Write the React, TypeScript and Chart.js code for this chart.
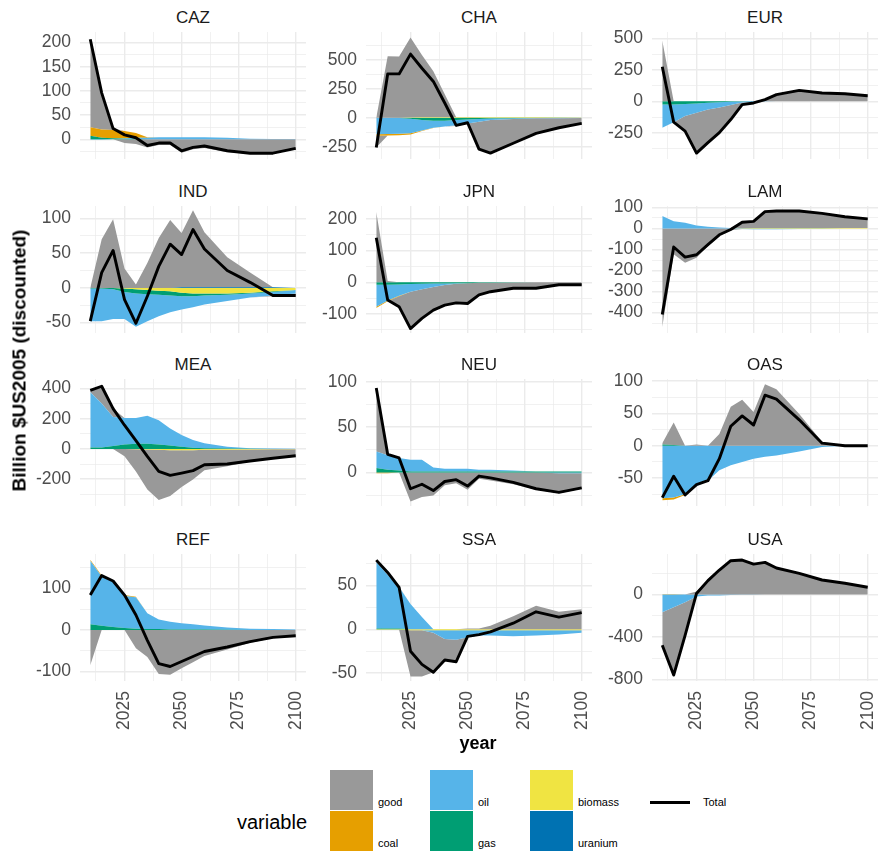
import React, { useEffect, useRef } from "react";
import { Chart, registerables } from "chart.js";
Chart.register(...registerables);

const YEARS = [2010, 2015, 2020, 2025, 2030, 2035, 2040, 2045, 2050, 2055, 2060, 2070, 2080, 2090, 2100];
const REGIONS = ["CAZ", "CHA", "EUR", "IND", "JPN", "LAM", "MEA", "NEU", "OAS", "REF", "SSA", "USA"];
const VARIABLES = ["good", "coal", "oil", "gas", "biomass", "uranium"];
const COLORS: Record<string, string> = {
  good: "#999999",
  coal: "#E69F00",
  oil: "#56B4E9",
  gas: "#009E73",
  biomass: "#F0E442",
  uranium: "#0072B2",
};
const Z = [0, 0, 0, 0, 0, 0, 0, 0, 0, 0, 0, 0, 0, 0, 0];

const GOOD: Record<string, number[]> = {
  CAZ: [183, 77, 3, -8, -10, -17, -12, -12, -28, -21, -18, -27, -30, -30, -20],
  CHA: [-102, 531, 529, 692, 539, 397, 198, -6, 2, -241, -290, -214, -133, -86, -49],
  EUR: [486, 0, -119, -321, -263, -200, -115, -16, -8, 16, 53, 87, 66, 60, 45],
  IND: [0, 70, 99, 28, 5, 36, 72, 98, 78, 111, 79, 43, 21, -1, -3],
  JPN: [221, 4, -33, -116, -92, -73, -63, -60, -64, -38, -28, -18, -19, -8, -8],
  LAM: [-468, -123, -163, -139, -85, -35, -7, 31, 35, 81, 84, 83, 72, 54, 44],
  MEA: [11, 115, 55, -48, -148, -265, -333, -303, -244, -195, -136, -110, -80, -61, -43],
  NEU: [71, 2, 0, -32, -27, -25.5, -14, -12, -19, -7, -9, -13, -19, -22, -17],
  OAS: [2, 35, 0, 2, 0, 18, 60, 71, 52, 95, 87, 49, 6, 0, 0],
  REF: [-85, 0, 0, 0, -44, -65, -106, -108, -92, -78, -63, -47, -31, -20, -15],
  SSA: [2.5, 3.5, 0.5, -53, -53, -45, -24, -25, 1, 1, 4, 15, 27, 20, 23],
  USA: [-312, -640, -313, 29, 141, 239, 324, 328, 289, 303, 250, 200, 137, 106, 69],
};
const COAL: Record<string, number[]> = {
  CAZ: [18, 17, 17, 15, 10, 1, 0, 0, 0, 0, 0, 0, 0, 0, 0],
  CHA: [-12, -12, -12, -10, -5, -2, 0, 0, 0, 0, 0, 0, 0, 0, 0],
  EUR: Z,
  IND: Z,
  JPN: [-4, -2, -1, 0, 0, 0, 0, 0, 0, 0, 0, 0, 0, 0, 0],
  LAM: Z,
  MEA: Z,
  NEU: [-1, -1, 0, 0, 0, 0, 0, 0, 0, 0, 0, 0, 0, 0, 0],
  OAS: [-3, -3, -1, 0, 0, 0, 0, 0, 0, 0, 0, 0, 0, 0, 0],
  REF: [2, 2, 2, 2, 1, 0, 0, 0, 0, 0, 0, 0, 0, 0, 0],
  SSA: Z,
  USA: [2, 2, 1, 0, 0, 0, 0, 0, 0, 0, 0, 0, 0, 0, 0],
};
const OIL: Record<string, number[]> = {
  CAZ: [-1, -1, 0, 1, 2, 3, 4, 4, 4, 4, 4, 3, 1, 0.5, 0.5],
  CHA: [-143, -140, -136, -126, -90, -61, -50, -45, -35, -25, -14, -7, -3, -2, -2],
  EUR: [-184, -140, -96, -74, -54, -42, -26, -8, -5, -2, 0, 0, 0, 0, 0],
  IND: [-47, -47, -43, -39, -48, -39, -31, -24, -19, -16, -13, -9, -6, -5, -5],
  JPN: [-69, -50, -36, -24, -17, -11, -5, -2, 0, 0, 0, 0, 0, 0, 0],
  LAM: [59, 35, 27, 14, 8, 5, 2, -2, -3, -3, -3, -2, -2, 0, 0],
  MEA: [366, 290, 192, 175, 170, 184, 160, 114, 77, 51, 32, 12, 3, 2, 1],
  NEU: [18, 16, 14, 13, 13, 4.5, 3, 3, 3, 2, 2, 1, 0, -1, -1],
  OAS: [-81, -80, -75, -62, -54, -38, -30, -25, -20, -17, -15, -9, -2, 0, 0],
  REF: [153, 119, 109, 77, 76, 38, 23, 19, 15, 13, 10, 5.5, 3, 2, 1],
  SSA: [76, 61, 47, 29, 14, -3, -10, -11, -8, -6, -6, -7, -6, -5, -3],
  USA: [-166, -119, -72, -19, -10, -8, -5, -3, -2, 0, 0, 0, 0, 0, 0],
};
const GAS: Record<string, number[]> = {
  CAZ: [7, 3, 2, 1, 1, 0, 0, 0, 0, 0, 0, 0, 0, 0, 0],
  CHA: [0, 0, -2, -8, -20, -25, -25, -20, -15, -10, -6, -3, -2, -1, 0],
  EUR: [-26, -26, -22, -18, -12, -8, -4, -2, 0, 0, 0, 0, 0, 0, 0],
  IND: [-1, -1, -2, -5, -6, -6, -6, -6, -5, -4, -3, -2, -1, -1, 0],
  JPN: [-8, -8, -7, -6, -5, -4, -4, -3, -3, -2, -2, -1, 0, 0, 0],
  LAM: Z,
  MEA: [10, 10, 20, 30, 35, 35, 30, 22, 15, 8, 5, 3, 1, 0, 0],
  NEU: [5, 3, 2, 1, 1, 1, 1, 1, 1, 1, 1, 1, 1, 1, 1],
  OAS: [2, 1, 0, 0, 0, 0, 0, 0, 0, 0, 0, 0, 0, 0, 0],
  REF: [14, 10, 7, 5, 3, 2, 2, 1, 1, 1, 1, 0.5, 0, 0, 0],
  SSA: [1, 1, 1, 0, 0, 0, 0, 0, 0, 0, 0, 0, 0, 0, 0],
  USA: Z,
};
const BIOMASS: Record<string, number[]> = {
  CAZ: Z,
  CHA: [0, 0, 0, 2, 4, 5, 5, 5, 5, 5, 5, 4, 4, 3, 3],
  EUR: Z,
  IND: [0, 0, 0, -1, -2, -3, -4, -5, -7, -8, -8, -8, -7, -5, -3],
  JPN: Z,
  LAM: [0, 0, 0, 0, 0, 0, 0, 1, 2, 2, 2, 2, 2, 2, 2],
  MEA: [0, 0, 0, 0, -2, -4, -6, -8, -8, -8, -6, -5, -4, -3, -3],
  NEU: Z,
  OAS: Z,
  REF: Z,
  SSA: [-0.5, -0.5, -0.5, -1, -1, -1, -1, -1, -1, -1, -1, -1, -1, -1, -1],
  USA: Z,
};
const URANIUM: Record<string, number[]> = {
  CAZ: Z, CHA: Z, EUR: Z,
  IND: [0, 0, 0, 0, 0, 0, 0, 0, 1, 1, 1, 1, 1, 1, 0],
  JPN: Z, LAM: Z, MEA: Z, NEU: Z, OAS: Z, REF: Z, SSA: Z, USA: Z,
};
const TOTAL: Record<string, number[]> = {
  CAZ: [207, 96, 22, 9, 3, -13, -8, -8, -24, -17, -14, -24, -29, -29, -19],
  CHA: [-257, 379, 379, 550, 428, 314, 128, -66, -43, -271, -305, -220, -134, -86, -48],
  EUR: [276, -166, -237, -413, -329, -250, -145, -26, -13, 14, 53, 87, 66, 60, 45],
  IND: [-48, 22, 54, -17, -51, -12, 31, 63, 48, 84, 56, 25, 8, -11, -11],
  JPN: [140, -56, -77, -146, -114, -88, -72, -65, -67, -40, -30, -19, -19, -8, -8],
  LAM: [-409, -88, -136, -125, -77, -30, -5, 30, 34, 80, 83, 83, 72, 56, 46],
  MEA: [387, 415, 267, 157, 55, -50, -149, -175, -160, -144, -105, -100, -80, -62, -45],
  NEU: [93, 20, 16, -18, -13, -20, -10, -8, -15, -4, -6, -11, -18, -22, -17],
  OAS: [-80, -47, -76, -60, -54, -20, 30, 46, 32, 78, 72, 40, 4, 0, 0],
  REF: [84, 131, 118, 84, 36, -25, -81, -88, -76, -64, -52, -41, -28, -18, -14],
  SSA: [79, 65, 48, -25, -40, -49, -35, -37, -8, -6, -3, 7, 20, 14, 19],
  USA: [-478, -759, -385, 10, 131, 231, 319, 325, 287, 303, 250, 200, 137, 106, 69],
};

const Y_MIN = [-41, -356, -460, -65, -160, -497, -378, -37, -93, -123, -59, -815];
const Y_MAX = [222, 741, 553, 118, 240, 107, 463, 103, 103, 183, 86, 382];
const Y_STEP = [50, 250, 250, 50, 100, 100, 200, 50, 50, 100, 50, 400];
const X_MIN = 2005.5;
const X_MAX = 2104.5;
const X_BREAKS = [2025, 2050, 2075, 2100];
const X_MINOR = [2012.5, 2037.5, 2062.5, 2087.5];

const COL_LEFT = [80, 366, 652];
const ROW_TOP = [32, 206, 379, 554];
const PLOT_W = 226;
const PLOT_H = 127;
const YW = 80;
const M = 14;
const XH = 64;
const RM = 6;
const FONT = "'Liberation Sans', Arial, Helvetica, sans-serif";
const TICK_SIZE = 17.5;

function pts(arr: number[]) {
  return YEARS.map((x, i) => ({ x, y: arr[i] }));
}

function Panel({ idx }: { idx: number }) {
  const ref = useRef<HTMLCanvasElement | null>(null);
  const region = REGIONS[idx];
  const row = Math.floor(idx / 3);
  const col = idx % 3;
  const bottom = row === 3;
  const width = YW + PLOT_W + RM;
  const height = M + PLOT_H + (bottom ? XH : M);

  useEffect(() => {
    if (!ref.current) return;
    const stackOrder = ["uranium", "biomass", "gas", "oil", "coal", "good"];
    const tables: Record<string, Record<string, number[]>> = {
      good: GOOD, coal: COAL, oil: OIL, gas: GAS, biomass: BIOMASS, uranium: URANIUM,
    };
    const datasets: any[] = [];
    datasets.push({
      label: "Total",
      data: pts(TOTAL[region]),
      borderColor: "#000000",
      borderWidth: 2.9,
      borderJoinStyle: "round",
      fill: false,
      pointRadius: 0,
      order: 0,
    });
    for (const sign of [1, -1]) {
      let cum = YEARS.map(() => 0);
      let prev: any = "origin";
      stackOrder.forEach((v) => {
        const s = tables[v][region];
        cum = cum.map((c, i) => c + (sign > 0 ? Math.max(s[i], 0) : Math.min(s[i], 0)));
        datasets.push({
          label: v,
          data: pts(cum),
          borderColor: "rgba(0,0,0,0)",
          borderWidth: 0,
          backgroundColor: COLORS[v],
          fill: prev,
          pointRadius: 0,
          order: 1,
        });
        prev = datasets.length - 1;
      });
    }
    const step = Y_STEP[idx];
    const ymin = Y_MIN[idx];
    const ymax = Y_MAX[idx];
    const isMajorY = (v: number) => Math.abs(v / step - Math.round(v / step)) < 1e-6;
    const isMajorX = (v: number) => X_BREAKS.includes(v);
    const chart = new Chart(ref.current, {
      type: "line",
      data: { datasets },
      options: {
        animation: false,
        responsive: false,
        devicePixelRatio: 1,
        layout: { padding: { top: M, bottom: bottom ? 0 : M, left: 0, right: RM } },
        plugins: { legend: { display: false }, tooltip: { enabled: false }, filler: { propagate: false } } as any,
        elements: { point: { radius: 0 }, line: { tension: 0 } },
        scales: {
          x: {
            type: "linear",
            min: X_MIN,
            max: X_MAX,
            border: { display: false },
            grid: {
              color: "#EBEBEB",
              drawTicks: false,
              lineWidth: (ctx: any) => (ctx.tick && isMajorX(ctx.tick.value) ? 1.4 : 0.7),
            },
            afterBuildTicks: (scale: any) => {
              scale.ticks = [...X_MINOR, ...X_BREAKS].sort((a, b) => a - b).map((v) => ({ value: v }));
            },
            afterFit: (scale: any) => {
              scale.height = bottom ? XH : 0;
              scale.paddingLeft = 0;
              scale.paddingRight = 0;
              scale.paddingTop = 0;
              scale.paddingBottom = 0;
            },
            ticks: {
              display: bottom,
              autoSkip: false,
              minRotation: 90,
              maxRotation: 90,
              padding: 10,
              color: "#4D4D4D",
              font: { family: FONT, size: TICK_SIZE },
              callback: (v: any) => (isMajorX(Number(v)) ? String(v) : ""),
            },
          },
          y: {
            type: "linear",
            min: ymin,
            max: ymax,
            border: { display: false },
            grid: {
              color: "#EBEBEB",
              drawTicks: false,
              lineWidth: (ctx: any) => (ctx.tick && isMajorY(ctx.tick.value) ? 1.4 : 0.7),
            },
            afterBuildTicks: (scale: any) => {
              const half = step / 2;
              const t: any[] = [];
              for (let v = Math.ceil(ymin / half) * half; v <= ymax + 1e-9; v += half) t.push({ value: v });
              scale.ticks = t;
            },
            afterFit: (scale: any) => {
              scale.width = YW;
              scale.paddingLeft = 0;
              scale.paddingRight = 0;
              scale.paddingTop = 0;
              scale.paddingBottom = 0;
            },
            ticks: {
              autoSkip: false,
              padding: 9,
              color: "#4D4D4D",
              font: { family: FONT, size: TICK_SIZE },
              callback: (v: any) => (isMajorY(Number(v)) ? String(Math.round(Number(v))) : ""),
            },
          },
        },
      } as any,
    });
    return () => chart.destroy();
  }, [idx]);

  return (
    <>
      <div
        style={{
          position: "absolute",
          left: COL_LEFT[col],
          top: ROW_TOP[row] - 23.5,
          width: PLOT_W,
          textAlign: "center",
          fontFamily: FONT,
          fontSize: 17,
          lineHeight: "17px",
          color: "#1A1A1A",
        }}
      >
        {region}
      </div>
      <canvas
        ref={ref}
        width={width}
        height={height}
        style={{ position: "absolute", left: COL_LEFT[col] - YW, top: ROW_TOP[row] - M, width, height }}
      />
    </>
  );
}

const LEGEND_FILL = [
  { name: "good", x: 330, y: 770 },
  { name: "coal", x: 330, y: 811 },
  { name: "oil", x: 430, y: 770 },
  { name: "gas", x: 430, y: 811 },
  { name: "biomass", x: 530, y: 770 },
  { name: "uranium", x: 530, y: 811 },
];

export default function App() {
  return (
    <div
      style={{
        position: "absolute",
        left: 0,
        top: 0,
        width: 887,
        height: 855,
        background: "#FFFFFF",
        overflow: "hidden",
        fontFamily: FONT,
      }}
    >
      {REGIONS.map((r, i) => (
        <Panel key={r} idx={i} />
      ))}
      <div
        style={{
          position: "absolute",
          left: 19 - 200,
          top: 360 - 9.5,
          width: 400,
          height: 19,
          lineHeight: "19px",
          textAlign: "center",
          fontWeight: "bold",
          fontSize: 19,
          color: "#000",
          transform: "rotate(-90deg)",
          transformOrigin: "50% 50%",
          whiteSpace: "nowrap",
        }}
      >
        Billion $US2005 (discounted)
      </div>
      <div
        style={{
          position: "absolute",
          left: 478 - 100,
          top: 734,
          width: 200,
          textAlign: "center",
          fontWeight: "bold",
          fontSize: 18,
          lineHeight: "18px",
          color: "#000",
        }}
      >
        year
      </div>
      <div
        style={{
          position: "absolute",
          left: 237,
          top: 811,
          fontSize: 20,
          lineHeight: "22px",
          color: "#000",
        }}
      >
        variable
      </div>
      {LEGEND_FILL.map((it) => (
        <React.Fragment key={it.name}>
          <div
            style={{
              position: "absolute",
              left: it.x,
              top: it.y,
              width: 43,
              height: 40,
              background: COLORS[it.name],
            }}
          />
          <div
            style={{
              position: "absolute",
              left: it.x + 48,
              top: it.y + 26,
              fontSize: 11,
              lineHeight: "12px",
              color: "#000",
            }}
          >
            {it.name}
          </div>
        </React.Fragment>
      ))}
      <div style={{ position: "absolute", left: 650, top: 801, width: 40, height: 3, background: "#000" }} />
      <div style={{ position: "absolute", left: 703, top: 796, fontSize: 11, lineHeight: "12px", color: "#000" }}>
        Total
      </div>
    </div>
  );
}
